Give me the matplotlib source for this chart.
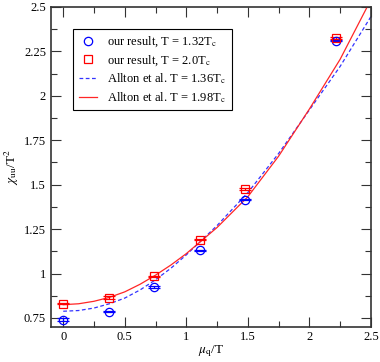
import numpy as np
import matplotlib
matplotlib.use("Agg")
import matplotlib.pyplot as plt
import matplotlib.ticker as ticker

plt.rcParams['font.family'] = ['Liberation Serif', 'DejaVu Serif']
plt.rcParams['mathtext.fontset'] = 'stix'

# our results (mu_q/T, chi_uu/T^2)
mu_pts = [0.0, 0.37, 0.74, 1.11, 1.48, 2.22]
chi_132 = [0.74, 0.785, 0.925, 1.13, 1.415, 2.31]
err_132 = [0.008, 0.004, 0.004, 0.004, 0.004, 0.004]
chi_20 = [0.83, 0.865, 0.985, 1.19, 1.475, 2.325]
err_20 = [0.004, 0.008, 0.004, 0.004, 0.004, 0.004]

# Allton et al. curves
mu_allton_136 = [0.0, 0.125, 0.25, 0.375, 0.5, 0.625, 0.75, 0.875, 1.0,
                 1.25, 1.5, 1.75, 2.0, 2.25, 2.5]
chi_allton_136 = [0.788, 0.792, 0.806, 0.830, 0.862, 0.908, 0.965, 1.03,
                  1.105, 1.27, 1.455, 1.675, 1.92, 2.165, 2.445]
mu_allton_198 = [0.0, 0.125, 0.25, 0.375, 0.5, 0.625, 0.75, 0.875, 1.0,
                 1.25, 1.5, 1.75, 2.0, 2.25, 2.47]
chi_allton_198 = [0.825, 0.830, 0.844, 0.866, 0.897, 0.940, 0.991, 1.048,
                  1.112, 1.259, 1.432, 1.66, 1.925, 2.205, 2.5]

fig = plt.figure(figsize=(3.8, 3.62), dpi=100)
ax = fig.add_axes([0.134, 0.097, 0.842, 0.884])

ax.plot(mu_allton_136, chi_allton_136, color=(0.2, 0.2, 1.0), lw=0.9,
        ls=(0, (3, 2)), label=r'Allton et al. T = 1.36T$_{\rm c}$', zorder=2)
ax.plot(mu_allton_198, chi_allton_198, color=(1.0, 0.15, 0.15), lw=0.9,
        label=r'Allton et al. T = 1.98T$_{\rm c}$', zorder=2)

ax.errorbar(mu_pts, chi_132, yerr=err_132, fmt='o', ms=6, mfc='none',
            mec='blue', mew=0.9, ecolor='blue', elinewidth=0.9, capsize=4,
            capthick=0.9, zorder=3)
ax.errorbar(mu_pts, chi_20, yerr=err_20, fmt='s', ms=6, mfc='none',
            mec='red', mew=0.9, ecolor='red', elinewidth=0.9, capsize=4,
            capthick=0.9, zorder=3)

h_circ, = ax.plot([], [], 'o', ms=6, mfc='none', mec='blue', mew=0.9,
                  label=r'our result, T = 1.32T$_{\rm c}$')
h_sq, = ax.plot([], [], 's', ms=6, mfc='none', mec='red', mew=0.9,
                label=r'our result, T = 2.0T$_{\rm c}$')
handles, labels = ax.get_legend_handles_labels()
order = [2, 3, 0, 1]
leg = ax.legend([handles[i] for i in order], [labels[i] for i in order],
                loc='upper left', bbox_to_anchor=(0.069, 0.93), fontsize=9,
                fancybox=False, edgecolor='black', framealpha=1,
                handlelength=1.5, handletextpad=0.8, borderpad=0.45,
                labelspacing=0.3, borderaxespad=0)
leg.get_frame().set_linewidth(0.8)

ax.set_xlim(-0.1, 2.5)
ax.set_ylim(0.7, 2.5)
ax.xaxis.set_major_locator(ticker.MultipleLocator(0.5))
ax.xaxis.set_minor_locator(ticker.MultipleLocator(0.25))
ax.yaxis.set_major_locator(ticker.MultipleLocator(0.25))
ax.yaxis.set_minor_locator(ticker.MultipleLocator(0.125))
fmt = ticker.FuncFormatter(lambda v, pos: '{0:g}'.format(v))
ax.xaxis.set_major_formatter(fmt)
ax.yaxis.set_major_formatter(fmt)
ax.tick_params(which='both', direction='in', top=True, right=True,
               labelsize=9, width=0.8, color='#333333')
ax.tick_params(which='major', length=7)
ax.tick_params(which='minor', length=4)
ax.tick_params(axis='x', pad=3)
for sp in ax.spines.values():
    sp.set_linewidth(1.2)
    sp.set_color('#333333')

ax.set_xlabel(r'$\mu_{\rm q}$/T', fontsize=9.5, labelpad=0)
ax.set_ylabel(r'$\chi_{\rm uu}$/T$^2$', fontsize=9.5, labelpad=2)

fig.savefig('out.png', dpi=100)
